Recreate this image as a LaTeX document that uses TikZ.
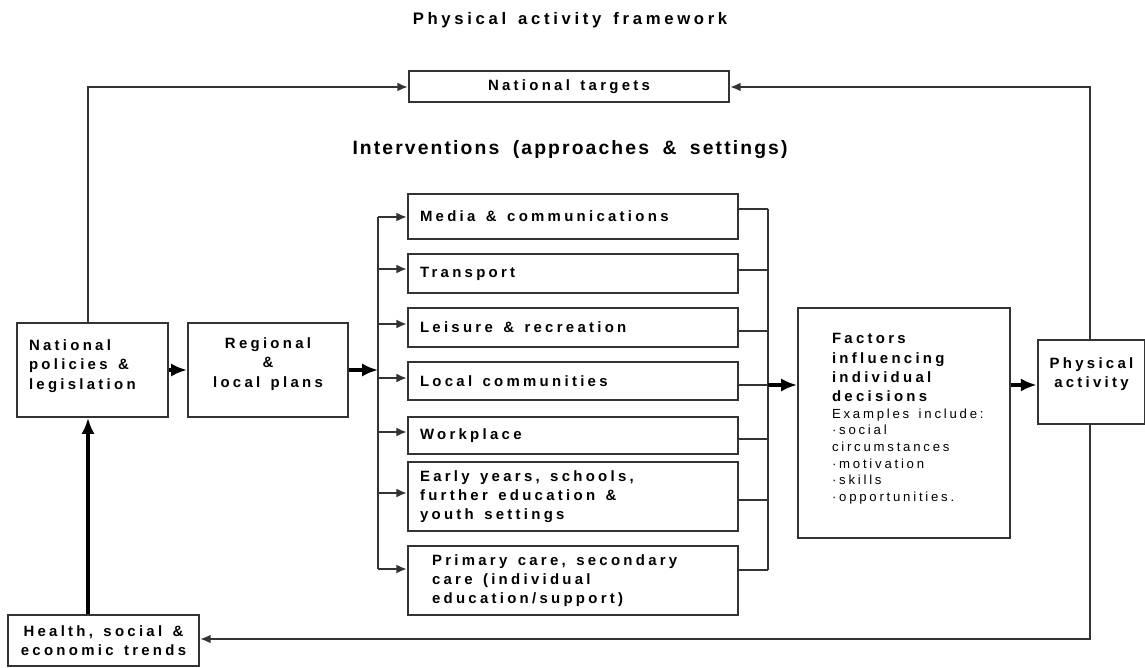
\documentclass[tikz,border=0pt]{standalone}
\usepackage{fontspec}
\setmainfont{Liberation Sans}
\newfontfamily\wideface[LetterSpace=22]{Liberation Sans}
\newfontfamily\exface[LetterSpace=21]{Liberation Sans}
\newfontfamily\headface[LetterSpace=11,WordSpace=1.8]{Liberation Sans}
\usetikzlibrary{calc}
\usetikzlibrary{arrows.meta}

\definecolor{linegray}{gray}{0.2}
\newcommand{\titlesize}{\wideface\bfseries\fontsize{9.5}{11}\selectfont\spaceskip=0.72em\relax}
\newcommand{\boxsize}{\wideface\bfseries\fontsize{8.5}{11}\selectfont\spaceskip=0.7em\relax}
\newcommand{\exsize}{\exface\mdseries\fontsize{7.5}{9}\selectfont\spaceskip=0.72em\relax}
\newcommand{\wsp}{\spaceskip=0.7em\relax}

\begin{document}
\begin{tikzpicture}[x=0.02cm,y=-0.02cm,
  box/.style={draw=linegray,line width=1.2pt,inner xsep=0.24cm,inner ysep=0pt,font=\boxsize},
  ibox/.style={box,minimum width=6.6cm,text width=6.12cm,align=left},
  thinline/.style={draw=linegray,line width=1.2pt},
  thinarrow/.style={thinline,-{Latex[length=6pt,width=5pt]}},
  thickarrow/.style={line width=2.4pt,-{Latex[length=9pt,width=7.5pt]}}]
\useasboundingbox (0,0) rectangle (1145,668);

\node[font=\titlesize] (title) at (570,20) {Physical activity framework};
\node[box,minimum width=6.4cm,minimum height=0.62cm,align=center] (targets) at (569,86.5) {National targets};
\node[font=\headface\bfseries\fontsize{11}{13}\selectfont] (interv) at (570,150) {Interventions (approaches \& settings)};

\node[box,minimum width=3.02cm,minimum height=1.88cm,text width=2.54cm,align=left] (nat) at (92.5,370) {\wsp National\\policies \&\\legislation\\[-4.6pt]\mbox{}};
\node[box,minimum width=3.2cm,minimum height=1.88cm,align=center] (reg) at (268,370) {Regional\\\&\\local plans\\[-2.4pt]\mbox{}};

\node[ibox,minimum height=0.9cm] (media) at (573,216.5) {\wsp Media \& communications};
\node[ibox,minimum height=0.78cm] (transport) at (573,273.5) {\wsp Transport};
\node[ibox,minimum height=0.78cm] (leisure) at (573,327.5) {\wsp Leisure \& recreation};
\node[ibox,minimum height=0.76cm] (local) at (573,381) {\wsp Local communities};
\node[ibox,minimum height=0.74cm] (work) at (573,435.5) {\wsp Workplace};
\node[ibox,minimum height=1.38cm] (early) at (573,496.5) {\wsp Early years, schools,\\further education \&\\youth settings};
\node[ibox,minimum height=1.38cm,inner xsep=0.48cm,text width=5.64cm] (primary) at (573,580.5) {\wsp Primary care, secondary\\care (individual\\education/support)};

\node[box,minimum width=4.24cm,minimum height=4.6cm,inner xsep=0.68cm,text width=2.88cm,align=left] (factors) at (904,423)
  {\wsp Factors\\influencing\\individual\\decisions\\[-1.6pt]
   \mbox{\exsize Examples include:}\\[-1.6pt]
   \mbox{\exsize ·social}\\[-1.6pt]
   \mbox{\exsize circumstances}\\[-1.6pt]
   \mbox{\exsize ·motivation}\\[-1.6pt]
   \mbox{\exsize ·skills}\\[-1.6pt]
   \mbox{\exsize ·opportunities.}\\[-4.6pt]\mbox{}};
\node[box,minimum width=2.1cm,minimum height=1.68cm,align=center] (phys) at (1091.5,382) {Physical\\activity\\[0pt]\mbox{}};
\node[box,minimum width=3.82cm,minimum height=1.02cm,align=center] (health) at (103.5,640.5) {Health, social \&\\economic trends};

\coordinate (tl) at (88,87);
\coordinate (tr) at (1090,87);
\coordinate (br) at (1090,639);
\coordinate (busL) at (378,370);
\coordinate (busLtop) at (378,217);
\coordinate (busLbot) at (378,569);
\coordinate (busR) at (768,385);
\coordinate (busRtop) at (768,209);
\coordinate (busRbot) at (768,570);

\draw[thinarrow] (nat.north -| tl) -- (tl) -- (targets.west |- tl);
\draw[thinarrow] (phys.north -| tr) -- (tr) -- (targets.east |- tr);
\draw[thinarrow] (phys.south -| br) -- (br) -- (health.east |- br);
\draw[thickarrow] (health.north -| tl) -- (nat.south -| tl);
\draw[thickarrow] (nat.east) -- (reg.west);
\draw[thickarrow] (reg.east) -- (busL);

\draw[thinline] (busLtop) -- (busLbot);
\draw[thinline] (busRtop) -- (busRbot);
\foreach \n/\yin/\yout in {media/217/209,transport/269/270,leisure/324/331,local/378/385,work/432/439,early/493/500,primary/569/570}{
  \coordinate (in) at (378,\yin);
  \coordinate (out) at (768,\yout);
  \draw[thinarrow] (in) -- (\n.west |- in);
  \draw[thinline] (\n.east |- out) -- (out);
}
\draw[thickarrow] (busR) -- (factors.west |- busR);
\draw[thickarrow] (factors.east |- busR) -- (phys.west |- busR);
\end{tikzpicture}
\end{document}
